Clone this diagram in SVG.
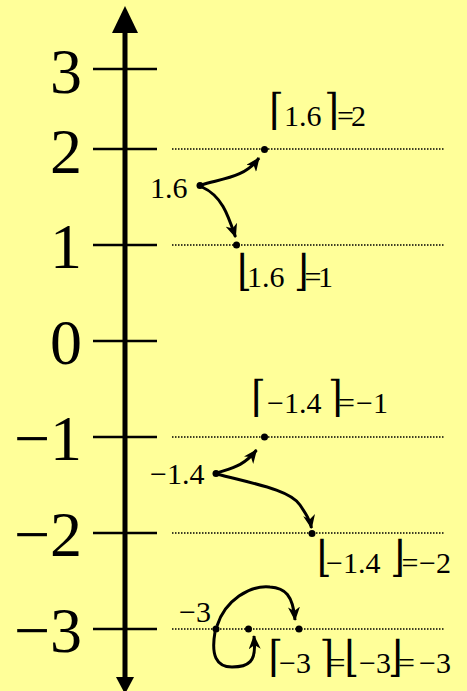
<svg xmlns="http://www.w3.org/2000/svg" width="467" height="691" viewBox="0 0 467 691">
<style>
.big{font-family:"Liberation Serif","Times New Roman",serif;font-size:64px;fill:#000;text-anchor:end}
.lbl{font-family:"Liberation Serif","Times New Roman",serif;font-size:30px;fill:#000}
.br{font-family:"DejaVu Serif","DejaVu Sans",serif;font-size:30px;fill:#000}
.tick{stroke:#000;stroke-width:2.6}
.dot{stroke:#000;stroke-width:1.5;stroke-dasharray:1.5 1.5;fill:none}
.arr{stroke:#000;stroke-width:3;fill:none;marker-end:url(#ah)}
</style>
<defs>
<marker id="ah" markerUnits="userSpaceOnUse" viewBox="0 0 14 12" refX="13" refY="6" markerWidth="14" markerHeight="12" orient="auto">
<path d="M0,0 L14,6 L0,12 L4,6 Z" fill="#000"/>
</marker>
</defs>
<rect width="467" height="691" fill="#FFFF99"/>
<g id="axis">
<line x1="125" y1="28" x2="125" y2="680" stroke="#000" stroke-width="5"/>
<polygon points="125,6 112,33 138,33" fill="#000"/>
<polygon points="116,677 134,677 125,694" fill="#000"/>
<line class="tick" x1="93" y1="69" x2="157" y2="69"/>
<line class="tick" x1="93" y1="149" x2="157" y2="149"/>
<line class="tick" x1="93" y1="245" x2="157" y2="245"/>
<line class="tick" x1="93" y1="341" x2="157" y2="341"/>
<line class="tick" x1="93" y1="437" x2="157" y2="437"/>
<line class="tick" x1="93" y1="533" x2="157" y2="533"/>
<line class="tick" x1="93" y1="629" x2="157" y2="629"/>
<text class="big" x="82" y="93">3</text>
<text class="big" x="82" y="173">2</text>
<text class="big" x="82" y="268">1</text>
<text class="big" x="82" y="364">0</text>
<text class="big" x="82" y="460">−1</text>
<text class="big" x="82" y="556">−2</text>
<text class="big" x="82" y="652">−3</text>
</g>
<g id="gridlines">
<line class="dot" x1="172" y1="149" x2="445" y2="149"/>
<line class="dot" x1="172" y1="245" x2="445" y2="245"/>
<line class="dot" x1="172" y1="437" x2="445" y2="437"/>
<line class="dot" x1="172" y1="533" x2="445" y2="533"/>
<line class="dot" x1="172" y1="629" x2="445" y2="629"/>
</g>
<g id="node-1.6">
<circle cx="200" cy="185.5" r="3.5"/>
<text class="lbl" x="150" y="198">1.6</text>
</g>
<g id="node-ceil-1.6">
<circle cx="264.5" cy="149.5" r="3.5"/>
<text class="br" transform="translate(269,124) scale(1.25,1.43)">⌈</text>
<text class="lbl" x="284" y="126">1.6</text>
<text class="br" transform="translate(324.3,124) scale(1.25,1.43)">⌉</text>
<text class="lbl" y="126"><tspan x="337">=</tspan><tspan x="351">2</tspan></text>
</g>
<g id="node-floor-1.6">
<circle cx="236.5" cy="245" r="3.5"/>
<text class="br" transform="translate(237,285) scale(1.25,1.43)">⌊</text>
<text class="lbl" x="247" y="287">1.6</text>
<text class="br" transform="translate(294,285) scale(1.25,1.43)">⌋</text>
<text class="lbl" y="287"><tspan x="304.5">=</tspan><tspan x="318">1</tspan></text>
</g>
<g id="node--1.4">
<circle cx="216" cy="473.5" r="3.5"/>
<text class="lbl" x="150" y="484">−1.4</text>
</g>
<g id="node-ceil--1.4">
<circle cx="264.5" cy="437" r="3.5"/>
<text class="br" transform="translate(251,411) scale(1.25,1.43)">⌈</text>
<text class="lbl" x="267" y="413">−1.4</text>
<text class="br" transform="translate(328,411) scale(1.25,1.43)">⌉</text>
<text class="lbl" y="413"><tspan x="338">=</tspan><tspan x="356">−1</tspan></text>
</g>
<g id="node-floor--1.4">
<circle cx="312" cy="533.5" r="3.5"/>
<text class="br" transform="translate(316.7,571) scale(1.25,1.43)">⌊</text>
<text class="lbl" x="326" y="573">−1.4</text>
<text class="br" transform="translate(390.3,571) scale(1.25,1.43)">⌋</text>
<text class="lbl" y="573"><tspan x="401.5">=</tspan><tspan x="419">−2</tspan></text>
</g>
<g id="node--3">
<circle cx="216" cy="629" r="3.5"/>
<circle cx="248.5" cy="629" r="3.5"/>
<circle cx="299" cy="629" r="3.5"/>
<text class="lbl" x="179" y="622">−3</text>
<text class="br" transform="translate(268.3,671) scale(1.25,1.43)">⌈</text>
<text class="lbl" x="279" y="673">−3</text>
<text class="br" transform="translate(319.5,671) scale(1.25,1.43)">⌉</text>
<text class="lbl" x="328.5" y="673">=</text>
<text class="br" transform="translate(344.3,671) scale(1.25,1.43)">⌊</text>
<text class="lbl" x="359" y="673">−3</text>
<text class="br" transform="translate(388,671) scale(1.25,1.43)">⌋</text>
<text class="lbl" y="673"><tspan x="398">=</tspan><tspan x="419">−3</tspan></text>
</g>
<g id="connectors">
<path class="arr" d="M201,185 C225,178 245,177 259,158"/>
<path class="arr" d="M202,187 C222,196 228,215 235.5,237"/>
<path class="arr" d="M217,473 C232,468 244,466 256.5,450"/>
<path class="arr" d="M217,474 C255,484 290,490 300,505 C306,514 310,520 311.5,528"/>
<path class="arr" d="M217,626 C225,600 250,585 270,587 C285,588 293,595 295,620"/>
<path class="arr" d="M215,632 C211,655 216,667 232,667 C250,667 255,660 254.5,645 L254,636"/>
</g>
</svg>
